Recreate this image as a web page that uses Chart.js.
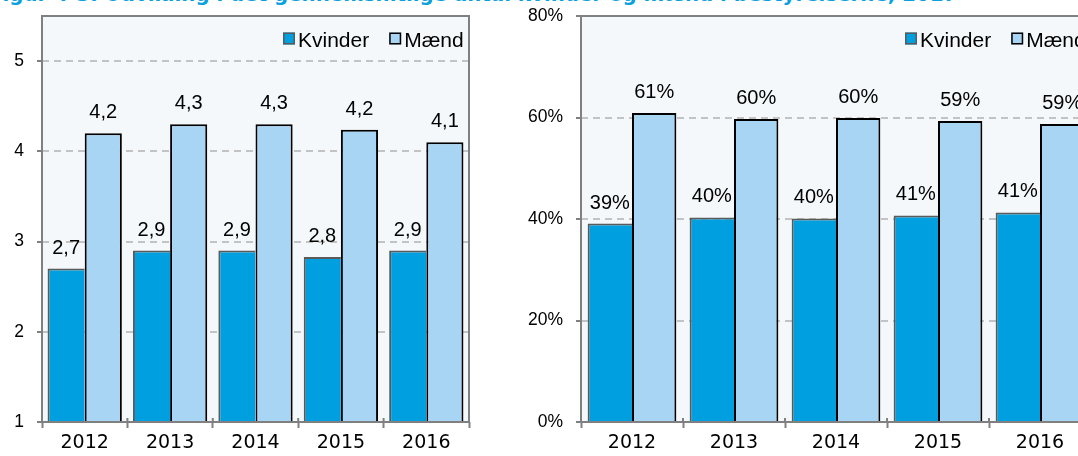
<!DOCTYPE html>
<html>
<head>
<meta charset="utf-8">
<script src="https://cdn.jsdelivr.net/npm/chart.js@4"></script>
<style>
  html, body { margin: 0; padding: 0; background: #fff; width: 1078px; height: 456px; overflow: hidden; position: relative; }
  #title { position: absolute; left: -11px; top: -15px; white-space: nowrap; font-family: 'DejaVu Sans', Verdana, sans-serif; font-weight: bold; font-size: 19.8px; line-height: 19.8px; color: #0AA0E0; }
  #w1 { position: absolute; left: 0; top: 0; width: 540px; height: 456px; }
  #w2 { position: absolute; left: 515px; top: 0; width: 585px; height: 456px; }
</style>
</head>
<body>
<div id="title">Figur 4-3: Udvikling i det gennemsnitlige antal kvinder og mænd i bestyrelserne, 2017</div>
<div id="w1"><canvas id="c1"></canvas></div>
<div id="w2"><canvas id="c2"></canvas></div>
<script>
// ---- data ----
const categories = ['2012', '2013', '2014', '2015', '2016'];
const seriesNames = ['Kvinder', 'Mænd'];
// Left panel: average number per board
const avgKvinder = [2.7, 2.9, 2.9, 2.83, 2.9];
const avgMaend   = [4.2, 4.3, 4.3, 4.24, 4.1];
const avgTicks   = [1, 2, 3, 4, 5];
// Right panel: share in percent
const pctKvinder = [39.1, 40.3, 40.1, 40.7, 41.3];
const pctMaend   = [60.9, 59.7, 59.9, 59.3, 58.7];
const pctTicks   = [0, 20, 40, 60, 80];

// ---- styles ----
const C_K = '#009FE0', C_K_BORDER = '#5A5A5A';
const C_M = '#A9D5F4', C_M_BORDER = '#000000';
const AXIS = '#808080';
const ARIAL = "'Liberation Sans', Arial, sans-serif";
const VERDANA = "'DejaVu Sans', Verdana, sans-serif";

const framePlugin = {
  id: 'frame',
  beforeDraw(chart) {
    const a = chart.chartArea, ctx = chart.ctx;
    ctx.save();
    ctx.fillStyle = '#F4F8FB';
    ctx.fillRect(a.left, a.top, a.right - a.left, a.bottom - a.top);
    ctx.restore();
  },
  afterDatasetsDraw(chart) {
    const a = chart.chartArea, ctx = chart.ctx;
    ctx.save();
    ctx.strokeStyle = AXIS;
    ctx.lineWidth = 2;
    ctx.strokeRect(a.left, a.top, a.right - a.left, a.bottom - a.top);
    // category boundary tick marks crossing the axis
    const xs = chart.scales.x;
    ctx.beginPath();
    for (let i = 0; i <= chart.data.labels.length; i++) {
      const px = xs.getPixelForValue(i - 0.5);
      ctx.moveTo(px, a.bottom - 4);
      ctx.lineTo(px, a.bottom);
    }
    ctx.stroke();
    ctx.restore();
  }
};

const labelPlugin = {
  id: 'vlabels',
  afterDatasetsDraw(chart, args, opts) {
    const ctx = chart.ctx;
    ctx.save();
    ctx.font = '20px ' + ARIAL;
    ctx.fillStyle = '#000';
    ctx.textAlign = 'center';
    ctx.textBaseline = 'alphabetic';
    chart.data.datasets.forEach((ds, di) => {
      const meta = chart.getDatasetMeta(di);
      meta.data.forEach((el, i) => {
        ctx.fillText(opts.fmt(ds.data[i]), el.x, el.y - 15);
      });
    });
    ctx.restore();
  }
};

const legendPlugin = {
  id: 'inlegend',
  afterDraw(chart, args, opts) {
    const ctx = chart.ctx, a = chart.chartArea;
    ctx.save();
    ctx.font = '21px ' + ARIAL;
    ctx.textBaseline = 'alphabetic';
    ctx.textAlign = 'left';
    let x = a.right - opts.fromRight;
    const yBox = a.top + 16.5;
    chart.data.datasets.forEach((ds, di) => {
      ctx.fillStyle = ds.backgroundColor;
      ctx.fillRect(x, yBox, 12, 12);
      ctx.strokeStyle = ds.borderColor;
      ctx.lineWidth = 1.5;
      ctx.strokeRect(x + 0.75, yBox + 0.75, 10.5, 10.5);
      ctx.fillStyle = '#000';
      ctx.fillText(ds.label, x + 15, a.top + 31);
      x += 15 + ctx.measureText(ds.label).width + 20;
    });
    ctx.restore();
  }
};

function makeChart(id, kv, ma, ticks, yMin, yMax, yWidth, padRight, tickFmt, labelFmt) {
  return new Chart(document.getElementById(id), {
    type: 'bar',
    data: {
      labels: categories,
      datasets: [
        { label: seriesNames[0], data: kv, backgroundColor: C_K, borderColor: C_K_BORDER,
          borderWidth: { top: 2, left: 2, right: 0, bottom: 0 }, borderSkipped: false,
          categoryPercentage: 0.87, barPercentage: 1.0 },
        { label: seriesNames[1], data: ma, backgroundColor: C_M, borderColor: C_M_BORDER,
          borderWidth: { top: 2, left: 2, right: 2, bottom: 0 }, borderSkipped: false,
          categoryPercentage: 0.87, barPercentage: 1.0 }
      ]
    },
    options: {
      responsive: true,
      maintainAspectRatio: false,
      animation: false,
      events: [],
      layout: { padding: { top: 16, right: padRight, left: 0, bottom: 0 } },
      plugins: {
        legend: { display: false },
        tooltip: { enabled: false },
        vlabels: { fmt: labelFmt },
        inlegend: { fromRight: 186 }
      },
      scales: {
        x: {
          type: 'category',
          offset: true,
          border: { display: false },
          grid: { offset: true, drawOnChartArea: false, drawTicks: true, tickLength: 6, tickColor: AXIS, tickWidth: 2 },
          ticks: { color: '#000', font: { family: VERDANA, size: 19 }, padding: 4, maxRotation: 0 },
          afterFit(s) { s.height = 34; s.paddingLeft = 0; s.paddingRight = 0; }
        },
        y: {
          min: yMin, max: yMax,
          afterBuildTicks(s) { s.ticks = ticks.map(v => ({ value: v })); },
          border: { display: false, dash: [7, 5] },
          grid: { color: '#C3C3C3', lineWidth: 2, drawTicks: true, tickLength: 5, tickColor: AXIS, tickWidth: 2, tickBorderDash: [] },
          ticks: { color: '#000', font: { family: ARIAL, size: 17.5 }, padding: 13, callback: tickFmt },
          afterFit(s) { s.width = yWidth; s.paddingTop = 0; s.paddingBottom = 0; }
        }
      }
    },
    plugins: [framePlugin, labelPlugin, legendPlugin]
  });
}

makeChart('c1', avgKvinder, avgMaend, avgTicks, 1, 5.5, 42, 71,
  v => String(v), v => v.toFixed(1).replace('.', ','));
makeChart('c2', pctKvinder, pctMaend, pctTicks, 0, 80, 66, 9,
  v => v + '%', v => Math.round(v) + '%');
</script>
</body>
</html>
